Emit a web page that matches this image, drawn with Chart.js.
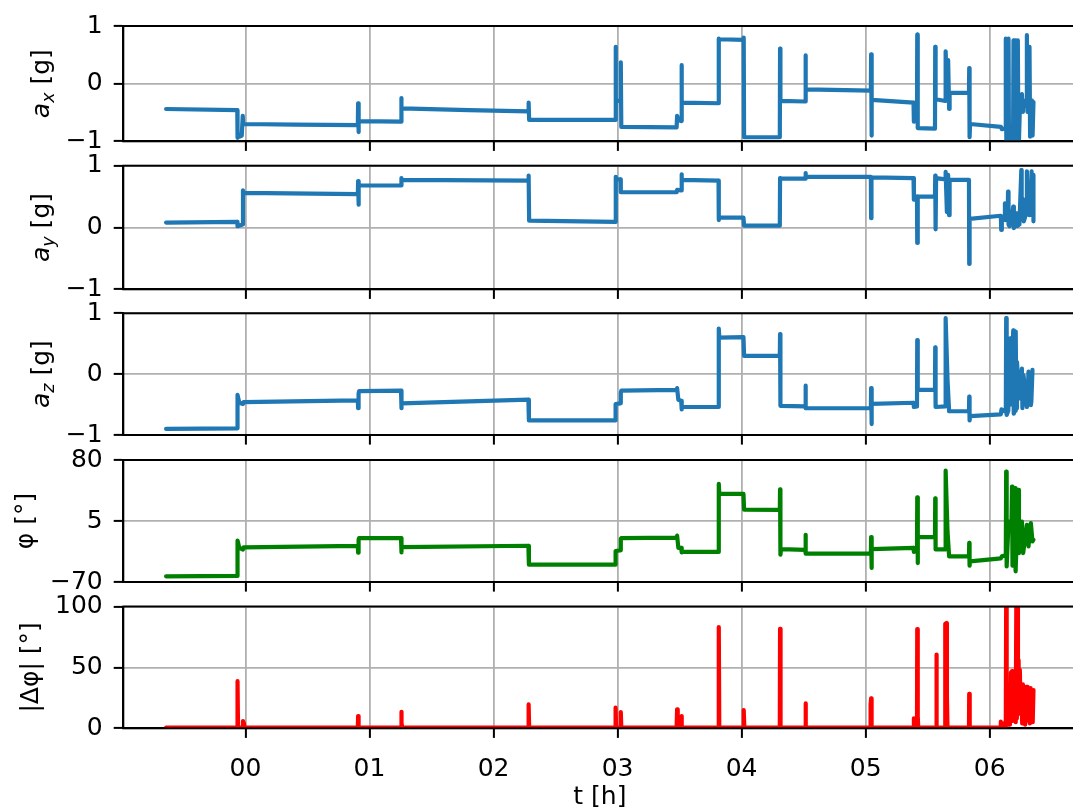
<!DOCTYPE html>
<html>
<head>
<meta charset="utf-8">
<script src="https://cdn.jsdelivr.net/npm/chart.js@4.4.1/dist/chart.umd.min.js"></script>
<style>
  html, body { margin: 0; padding: 0; background: #fff; overflow: hidden; width: 1073px; height: 810px; }
  canvas { position: absolute; left: 0; top: 0; }
</style>
</head>
<body>
<canvas id="p1" width="1080" height="810"></canvas>
<canvas id="p2" width="1080" height="810"></canvas>
<canvas id="p3" width="1080" height="810"></canvas>
<canvas id="p4" width="1080" height="810"></canvas>
<canvas id="p5" width="1080" height="810"></canvas>
<script>
// Shared time axis ticks (hours)
const hourTicks = [0, 1, 2, 3, 4, 5, 6];
const hourLabels = ['00', '01', '02', '03', '04', '05', '06'];

// a_x [g]
const axT = [-0.64, -0.066, -0.064, -0.055, -0.048, -0.03, -0.022, -0.018, 0.4, 0.906, 0.908, 0.911, 0.914, 1.254, 1.256, 1.259, 1.8, 2.281, 2.283, 2.287,
  2.982, 2.984, 2.987, 3.024, 3.026, 3.03, 3.476, 3.48, 3.49, 3.513, 3.515, 3.519, 3.814, 3.816, 3.82, 4.015, 4.017, 4.02, 4.308, 4.31, 4.313,
  4.513, 4.515, 4.518, 5.042, 5.044, 5.047, 5.05, 5.386, 5.389, 5.414, 5.416, 5.42, 5.559, 5.561, 5.564, 5.643, 5.645, 5.655, 5.665, 5.673, 5.677,
  5.833, 5.835, 5.838, 5.842, 6.09, 6.098, 6.125, 6.13, 6.135, 6.148, 6.152, 6.156, 6.188, 6.192, 6.196, 6.206, 6.21, 6.214, 6.224, 6.227, 6.232,
  6.245, 6.26, 6.268, 6.273, 6.285, 6.298, 6.3, 6.305, 6.318, 6.321, 6.326, 6.335, 6.34, 6.346, 6.353];
const axV = [-0.44, -0.46, -0.94, -0.88, -0.92, -0.9, -0.56, -0.7, -0.71, -0.72, -0.34, -0.84, -0.65, -0.66, -0.25, -0.43, -0.46, -0.48, -0.33, -0.63,
  -0.63, 0.64, -0.3, -0.3, 0.37, -0.75, -0.76, -0.56, -0.63, -0.65, 0.32, -0.33, -0.34, 0.78, 0.77, 0.76, 0.8, -0.93, -0.93, 0.61, -0.3,
  -0.31, 0.49, -0.1, -0.12, 0.51, -0.9, -0.28, -0.33, -0.66, -0.62, 0.85, -0.77, -0.78, 0.64, -0.27, -0.3, 0.56, -0.2, 0.41, -0.44, -0.16,
  -0.16, 0.27, -0.93, -0.7, -0.75, -0.79, -0.78, 0.78, -1.3, -1.3, 0.78, -1.3, -1.3, 0.75, -1.3, -1.3, 0.75, -1.3, -1.3, 0.75, -1.3,
  -0.3, -0.18, -0.49, -0.3, -0.3, -0.4, 0.84, -0.49, -0.4, 0.64, -0.92, -0.5, -0.29, -0.9, -0.32];

// a_y [g]
const ayT = [-0.64, -0.066, -0.064, -0.022, -0.02, -0.016, 0.906, 0.908, 0.911, 0.914, 1.254, 1.256, 1.259, 2.281, 2.283, 2.287, 2.982, 2.984, 2.987,
  3.024, 3.026, 3.476, 3.48, 3.513, 3.515, 3.519, 3.814, 3.816, 3.82, 4.015, 4.02, 4.308, 4.31, 4.313, 4.513, 4.515, 4.518, 5.042, 5.044, 5.047,
  5.386, 5.389, 5.414, 5.416, 5.42, 5.559, 5.561, 5.564, 5.568, 5.643, 5.645, 5.655, 5.665, 5.673, 5.677, 5.833, 5.835, 5.838, 6.09, 6.093, 6.098,
  6.12, 6.123, 6.127, 6.145, 6.148, 6.152, 6.16, 6.175, 6.19, 6.195, 6.21, 6.215, 6.22, 6.24, 6.255, 6.258, 6.27, 6.275, 6.298, 6.3, 6.305,
  6.315, 6.32, 6.33, 6.338, 6.342, 6.35, 6.353];
const ayV = [0.08, 0.09, 0.02, 0.05, 0.6, 0.56, 0.54, 0.75, 0.37, 0.68, 0.68, 0.8, 0.77, 0.76, 0.84, 0.11, 0.09, 0.82, 0.78,
  0.78, 0.57, 0.57, 0.61, 0.6, 0.86, 0.77, 0.76, 0.12, 0.16, 0.16, 0.03, 0.03, 0.8, 0.79, 0.79, 0.88, 0.82, 0.82, 0.15, 0.81,
  0.8, 0.45, 0.5, -0.25, 0.5, 0.5, 0.84, -0.03, 0.8, 0.78, 0.9, 0.25, 0.85, 0.2, 0.77, 0.77, -0.59, 0.14, 0.19, -0.04, 0.16,
  0.19, 0.39, 0.12, 0.15, 0.58, 0.05, 0.02, 0.1, 0.34, -0.01, 0.05, 0.23, 0.02, 0.05, 0.93, 0.3, 0.45, 0.1, 0.25, 0.91, 0.23,
  0.6, 0.2, 0.45, 0.91, 0.2, 0.85, 0.1];

// a_z [g]
const azT = [-0.64, -0.066, -0.064, -0.05, -0.02, -0.016, 0.906, 0.908, 0.912, 0.916, 1.254, 1.256, 1.26, 2.281, 2.285, 2.982, 2.984, 3.024, 3.026, 3.03,
  3.476, 3.48, 3.49, 3.513, 3.515, 3.519, 3.814, 3.816, 3.82, 4.015, 4.02, 4.308, 4.31, 4.313, 4.513, 4.515, 4.518, 5.042, 5.044, 5.047, 5.05,
  5.386, 5.389, 5.414, 5.416, 5.42, 5.559, 5.561, 5.564, 5.643, 5.645, 5.66, 5.673, 5.833, 5.835, 5.838, 5.842, 6.09, 6.095, 6.13, 6.133, 6.137,
  6.15, 6.165, 6.168, 6.19, 6.194, 6.205, 6.21, 6.215, 6.22, 6.24, 6.26, 6.264, 6.273, 6.3, 6.304, 6.313, 6.332, 6.336, 6.345, 6.353];
const azV = [-0.9, -0.89, -0.34, -0.47, -0.49, -0.46, -0.43, -0.56, -0.32, -0.28, -0.27, -0.56, -0.48, -0.42, -0.76, -0.76, -0.49, -0.48, -0.31, -0.27,
  -0.26, -0.23, -0.42, -0.44, -0.58, -0.54, -0.54, 0.75, 0.6, 0.61, 0.3, 0.3, 0.66, -0.52, -0.53, -0.19, -0.56, -0.56, -0.23, -0.82, -0.49,
  -0.47, -0.54, -0.53, 0.56, -0.26, -0.26, 0.44, -0.54, -0.53, 0.92, -0.09, -0.61, -0.61, -0.37, -0.76, -0.69, -0.66, -0.58, -0.62, 0.92, -0.67,
  -0.6, 0.59, -0.5, 0.72, -0.65, -0.6, 0.7, -0.56, 0.2, -0.4, 0.09, -0.56, -0.02, -0.54, -0.5, 0.04, -0.51, -0.45, 0.07];

// phi [deg]
const phT = [-0.64, -0.066, -0.064, -0.05, -0.02, -0.016, 0.906, 0.908, 0.912, 0.916, 1.254, 1.256, 1.26, 2.281, 2.285, 2.982, 2.984, 3.024, 3.026, 3.03,
  3.476, 3.48, 3.49, 3.513, 3.515, 3.519, 3.814, 3.816, 3.82, 4.015, 4.02, 4.308, 4.31, 4.313, 4.318, 4.513, 4.515, 4.518, 5.042, 5.044, 5.047, 5.05,
  5.386, 5.389, 5.414, 5.416, 5.419, 5.422, 5.559, 5.561, 5.564, 5.643, 5.645, 5.66, 5.673, 5.833, 5.835, 5.838, 5.842, 6.09, 6.098, 6.13, 6.133,
  6.137, 6.152, 6.176, 6.18, 6.184, 6.202, 6.205, 6.209, 6.215, 6.227, 6.23, 6.236, 6.24, 6.26, 6.27, 6.3, 6.313, 6.332, 6.345, 6.353];
const phV = [-63, -62.5, -19, -28, -30, -27.5, -25.5, -34, -18, -16, -16, -33.6, -27, -25.4, -48.7, -48.7, -32, -31, -17, -16,
  -15.5, -13, -28, -28, -33.6, -33, -33, 50.6, 38.3, 38.3, 19, 18.7, 44, -36.5, -29.5, -30.5, -12, -35, -35, -14.8, -52.8, -29.5,
  -28, -33, -31, 34.2, -46.7, -14.8, -14.8, 33, -30, -30, 66.9, -7.9, -38.5, -38.5, -22, -50, -44.6, -41, -38.5, -37, 65.7,
  -50.8, 4.4, 4.4, 47.3, -50, -40, 45.3, -56.9, -30, 20, 43.2, -34.4, -20, 4.4, -34.4, 0.3, -26.3, 2.4, -20, -18];

// |delta phi| [deg]
const dpT = [-0.64, -0.066, -0.064, -0.06, -0.022, -0.02, -0.012, -0.008, 0.906, 0.908, 0.912, 1.254, 1.256, 1.26, 1.264, 2.281, 2.283, 2.287,
  2.982, 2.984, 2.988, 3.024, 3.026, 3.03, 3.476, 3.48, 3.485, 3.513, 3.515, 3.519, 3.814, 3.816, 3.82, 4.015, 4.017, 4.022, 4.308, 4.31, 4.314,
  4.513, 4.515, 4.519, 5.038, 5.04, 5.044, 5.048, 5.386, 5.389, 5.41, 5.414, 5.416, 5.42, 5.424, 5.568, 5.57, 5.574, 5.64, 5.642, 5.652, 5.655, 5.66,
  5.833, 5.835, 5.839, 6.085, 6.09, 6.1, 6.12, 6.125, 6.13, 6.133, 6.137, 6.142, 6.147, 6.152, 6.157, 6.163, 6.168, 6.172, 6.176, 6.18, 6.186,
  6.192, 6.198, 6.205, 6.21, 6.215, 6.219, 6.224, 6.228, 6.233, 6.238, 6.243, 6.25, 6.257, 6.262, 6.268, 6.274, 6.28, 6.286, 6.293, 6.3, 6.306,
  6.312, 6.318, 6.324, 6.33, 6.336, 6.342, 6.347, 6.353];
const dpV = [0.5, 0.5, 38.7, 0.5, 0.5, 6, 4, 0.5, 0.5, 10, 0.5, 0.5, 13.6, 4.6, 0.5, 0.5, 19.6, 0.5,
  0.5, 16.9, 0.5, 0.5, 13.4, 0.5, 0.5, 15.5, 0.5, 0.5, 10, 0.5, 0.5, 83, 0.5, 0.5, 15, 0.5, 0.5, 81.7, 0.5,
  0.5, 20.4, 0.5, 0.5, 19.6, 24.5, 0.5, 0.5, 8.2, 6, 3, 81.5, 10, 0.5, 0.5, 60.5, 0.5, 0.5, 85.8, 86.4, 27.8, 0.5,
  0.5, 28.3, 0.5, 0.5, 5.4, 0.5, 0.5, 5, 2, 105, 3, 17, 5, 15, 3, 25, 8, 46, 10, 47, 6,
  20, 9.6, 30, 5, 105, 8, 105, 20, 56, 12, 48, 15, 35, 4, 36, 7, 28, 3, 34, 10, 34,
  6, 18, 4, 33, 8, 31, 5, 31.4];

const FONT = '"DejaVu Sans", sans-serif';

function tickText(v) {
  return v < 0 ? '\u2212' + Math.abs(v) : String(v);
}

// frame (all four spines) drawn on top of the data, like matplotlib
const framePlugin = {
  id: 'frame',
  afterDatasetsDraw(chart) {
    const { ctx, chartArea: a } = chart;
    ctx.save();
    ctx.strokeStyle = '#000';
    ctx.lineWidth = 2;
    ctx.strokeRect(a.left, a.top, a.right - a.left, a.bottom - a.top);
    ctx.restore();
  },
};

// rotated y label with italic / subscript parts
function yLabelPlugin(parts, baseX) {
  return {
    id: 'ylabel',
    afterDraw(chart) {
      const { ctx, chartArea: a } = chart;
      ctx.save();
      ctx.translate(baseX, (a.top + a.bottom) / 2);
      ctx.rotate(-Math.PI / 2);
      ctx.fillStyle = '#000';
      ctx.textBaseline = 'alphabetic';
      let total = 0;
      parts.forEach((p) => {
        ctx.font = p.font;
        p.w = ctx.measureText(p.text).width;
        total += p.w;
      });
      let x = -total / 2;
      parts.forEach((p) => {
        ctx.font = p.font;
        ctx.fillText(p.text, x, p.dy || 0);
        x += p.w;
      });
      ctx.restore();
    },
  };
}

function makePanel(id, o) {
  const points = o.t.map((t, i) => ({ x: t, y: o.v[i] }));
  return new Chart(document.getElementById(id), {
    type: 'scatter',
    data: {
      datasets: [
        {
          data: points,
          showLine: true,
          borderColor: o.color,
          backgroundColor: o.color,
          borderWidth: 4.2,
          pointRadius: 0,
          borderCapStyle: 'round',
          borderJoinStyle: 'round',
          tension: 0,
        },
      ],
    },
    options: {
      responsive: false,
      animation: false,
      devicePixelRatio: 1,
      layout: { padding: { top: o.top, right: 3.5, left: 0, bottom: 0 } },
      plugins: { legend: { display: false }, tooltip: { enabled: false } },
      scales: {
        x: {
          type: 'linear',
          min: -0.985,
          max: 6.7,
          afterBuildTicks: (s) => { s.ticks = hourTicks.map((v) => ({ value: v })); },
          afterFit: (s) => { s.height = 810 - o.bottom; },
          ticks: {
            display: o.showX,
            autoSkip: false,
            maxRotation: 0,
            padding: 17,
            color: '#000',
            font: { family: FONT, size: 25 },
            callback: (v) => hourLabels[hourTicks.indexOf(v)],
          },
          grid: { color: '#b0b0b0', lineWidth: 1.8, tickColor: '#000', tickWidth: 2, tickLength: 9.6 },
          border: { color: '#000', width: 2 },
          title: {
            display: o.showX,
            text: 't [h]',
            color: '#000',
            font: { family: FONT, size: 25 },
            padding: { top: 0, bottom: -2 },
          },
        },
        y: {
          min: o.yTicks[0],
          max: o.yTicks[o.yTicks.length - 1],
          afterBuildTicks: (s) => { s.ticks = o.yTicks.map((v) => ({ value: v })); },
          afterFit: (s) => { s.width = 123.3; },
          ticks: {
            padding: 11,
            color: '#000',
            font: { family: FONT, size: 25 },
            callback: (v) => tickText(v),
          },
          grid: { color: '#b0b0b0', lineWidth: 1.8, tickColor: '#000', tickWidth: 2, tickLength: 9.6 },
          border: { color: '#000', width: 2 },
        },
      },
    },
    plugins: [framePlugin, yLabelPlugin(o.label, o.labelX)],
  });
}

const BLUE = '#1f77b4';
const ital = 'italic 25px ' + FONT;
const sub = 'italic 17.5px ' + FONT;
const reg = '25px ' + FONT;

makePanel('p1', { t: axT, v: axV, color: BLUE, top: 19.7, bottom: 141.3, yTicks: [-1, 0, 1], showX: false, labelX: 48.5,
  label: [{ text: 'a', font: ital }, { text: 'x', font: sub, dy: 5 }, { text: ' [g]', font: reg }] });
makePanel('p2', { t: ayT, v: ayV, color: BLUE, top: 165.7, bottom: 289.3, yTicks: [-1, 0, 1], showX: false, labelX: 48.5,
  label: [{ text: 'a', font: ital }, { text: 'y', font: sub, dy: 5 }, { text: ' [g]', font: reg }] });
makePanel('p3', { t: azT, v: azV, color: BLUE, top: 313.3, bottom: 435, yTicks: [-1, 0, 1], showX: false, labelX: 48.5,
  label: [{ text: 'a', font: ital }, { text: 'z', font: sub, dy: 5 }, { text: ' [g]', font: reg }] });
makePanel('p4', { t: phT, v: phV, color: '#008000', top: 460, bottom: 582, yTicks: [-70, 5, 80], showX: false, labelX: 33,
  label: [{ text: 'φ [°]', font: reg }] });
makePanel('p5', { t: dpT, v: dpV, color: '#ff0000', top: 606.5, bottom: 728.3, yTicks: [0, 50, 100], showX: true, labelX: 37.5,
  label: [{ text: '|Δφ| [°]', font: reg }] });
</script>
</body>
</html>
